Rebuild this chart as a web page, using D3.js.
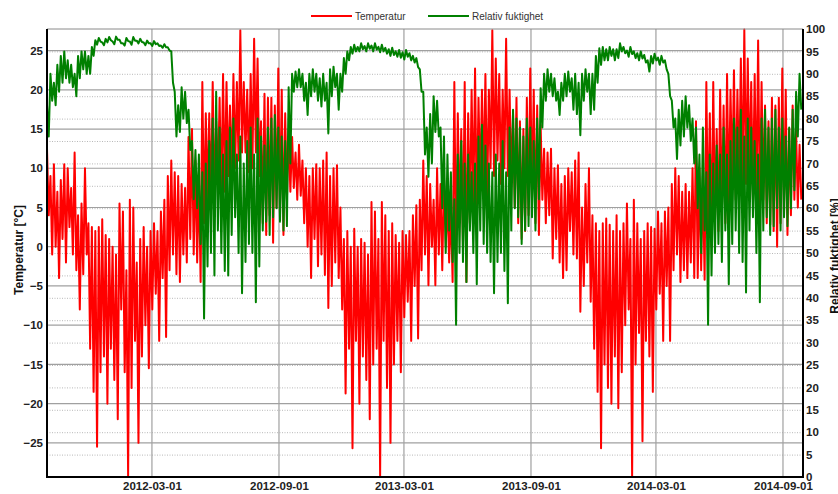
<!DOCTYPE html>
<html>
<head>
<meta charset="utf-8">
<script src="https://cdn.jsdelivr.net/npm/d3@7"></script>
<style>
  body { margin: 0; background: #fff; }
  svg { display: block; font-family: "Liberation Sans", Arial, sans-serif; }
</style>
</head>
<body>
<div id="chart"></div>
<script>
// series start 2011-10-01, one high/low pair every 5 days
const startDate = new Date(2011, 9, 1);
const endDate = new Date(2014, 8, 30);
const stepDays = 5;

const tempHigh = [
  12.5, 9, 10.5, 7, 8.5, 10.5, 10, 7.5, 12, 4, 5.5, 10, 3, 2.5, 2, 2.5, 3.5, 1.5, 1, 0,
  -1, 5.5, 4.5, -3, 6, 5, -2, 1, 2.5, 0, 2, 3, 2, 4.5, 6, 9, 11, 9.5, 9, 8,
  7.5, 14, 15, 11, 9, 21, 17, 17, 21, 16, 19, 22, 21, 18, 22,
  21, 27.6, 21, 20, 22, 26.5, 24, 16, 19.5, 19, 19, 18, 22.7, 20, 17, 15, 14, 12, 13, 11,
  10, 9, 10, 10.5, 10, 11, 12, 9, 10, 10.4, 5, 1, 2, 0, 2.3, 0, 1, 0.5, -1, 5.7,
  4.5, 1, 5.7, 4, 2, 3, 1.5, 0.5, 2, 1.5, 2, 4, 5.3, 6, 11,
  9, 8, 6, 10, 8, 9, 6, 5, 21, 17, 15, 21, 17, 20, 22.7, 19, 20, 22, 20, 27.6,
  24, 22, 20, 26.5, 20, 17, 19, 16, 15, 19, 22.7, 20, 18, 15.5, 12.5, 12, 12.5, 10, 10.4, 8,
  9, 10, 9.5, 11, 12, 5, 8, 10, 4, 3, 2, 3, 3.6, 2.8, 2,
  4, 2, 3, 5.5, 1, 6, 3, 1, 2, 3, 2.5, 2.3, 4.5, 3, 4.5, 5, 8, 10, 9, 7,
  8, 7, 10, 16, 10, 9, 21, 17, 21, 15, 20, 18, 22, 20, 22.5, 20, 24, 27.7, 24, 21,
  22, 26.3, 21, 18, 16, 19, 18, 19, 22.7, 20, 15, 18, 15, 13
];
const tempLow = [
  4, -1, 0, -4, 1, -2, 2.5, -1, -3, -8, -3.5, -1, -13, -18.5, -25.5, -16, -14, -20, -13, -17,
  -22, -8, -16, -29.3, -18, -12, -25, -14, -10, -15.5, -8, -6, -12, -4, -11.5, -3, -1, -3.5, -4.5, -1,
  -2, 1, -1, -2, -4.5, 3, 6, 5, 6, 8, 6, 7, 9, 8, 10,
  11, 12, 12, 9.5, 10, 12, 9, 3, 1.5, 4, 0.5, 5, 4, 1.5, 6, 7, 7.5, 6, 6.5, 3,
  0, -4, 1, -2.5, -1, -3.6, -7.8, -5, -2, -4, -8, -18.7, -13, -25.7, -12, -20, -14, -17, -22, -15,
  -13, -29.3, -12, -18, -25, -15, -12, -16, -9, -7, -12, -5, -11.7, -3, -1,
  -4.9, 0, -4.9, -1, -3, 0, -2, -4.5, -2, 3, 0, -4.5, 3, 5, 4, 7, 8, 6, 10, 9,
  11, 8, 10, 9, 8, 5, 3, 1, 2, 4, 6, 3, 1.5, 6, 3, 4, -1.5, 1, -2, -4,
  -3, 2, -1, -1.5, -8.3, -5, -2, -7, -13, -18.5, -25.7, -15, -18, -20, -14,
  -20.6, -16, -10, -8, -29.3, -15, -11, -24.8, -12, -14, -18.5, -8, -6, -12, -5, -12, -3, -1, -4.5, -3,
  -4, -2, -4, -4, -3, -4.2, 2, 0, 3, 2, 4, 3, 5, 8, 6, 8, 7, 8, 9, 6,
  5, 4, 6, 3, 2.8, 2, 0, 3, 4, 1.5, 4, 6, 5, 6
];
const rhHigh = [
  83, 90, 88, 92, 94, 95, 93, 92, 90, 94, 95, 95, 94, 96, 97.5, 98, 97, 97.8, 98.2, 97.2,
  98.3, 97.6, 96.8, 98, 97.2, 98.2, 97.4, 97.8, 97, 97.4, 96.8, 97.3, 96.8, 96.3, 96.6, 95.9, 95, 86, 83, 87,
  86, 82, 75, 73, 72, 68, 70, 75, 80, 86, 78, 72, 75, 78, 80,
  72, 76, 70, 75, 78, 72, 80, 76, 74, 78, 80, 80.8, 78, 76, 75, 87, 90, 90.5, 91, 90,
  88, 90, 91, 90, 89, 90, 88, 91, 91.6, 90, 90, 93.5, 95, 96, 96.5, 96, 96.8, 96.2, 96.8, 96.3,
  96.8, 96, 96.5, 95.8, 95.5, 95.8, 95, 95.3, 94.8, 95.3, 94.6, 94, 93.5, 91, 86,
  78, 81, 85, 84, 78, 76, 72, 68, 62, 72, 75, 70, 72, 68, 70, 76, 78.6, 74, 70, 68,
  72, 70, 75, 68, 78, 82, 80, 78, 76, 80, 78, 75, 80, 86.8, 90, 91, 90, 89, 86, 88,
  90, 90.5, 89, 90, 88, 90, 91, 90, 90, 94, 95.7, 96, 95.5, 96, 95.5,
  95.5, 96.8, 96, 95.2, 96, 95, 94.6, 95, 94.2, 93, 94, 94.5, 93.6, 94, 93, 90, 84, 80, 82, 84,
  85, 83, 80, 78, 72, 78, 68, 72, 70, 74, 72, 78, 72, 75, 80, 78, 82, 76, 80, 78,
  75, 72, 80, 82, 78, 80, 82, 78, 80, 76, 78, 82, 86, 90
];
const rhLow = [
  76, 84, 83, 86, 88, 89, 88, 87, 85, 89, 91, 90, 90, 94, 96.5, 97.2, 96.4, 97, 97.5, 96.6,
  97.6, 96.8, 96.3, 97.3, 96.5, 97.4, 96.8, 97.1, 96.4, 96.8, 96.2, 96.6, 96.2, 95.8, 95.9, 95.2, 88, 76, 77, 80,
  79, 73, 62, 60, 52, 35.4, 47, 50, 45, 55, 50, 46, 45, 54, 58,
  50, 41, 48, 52, 50, 39, 47, 55, 57, 54, 58, 60, 57, 55, 56, 70, 86, 87, 87, 84,
  80.8, 85, 86, 84, 82.7, 84, 76.7, 85, 87, 82, 86, 90, 93, 94.5, 95, 95, 95.5, 95, 95.6, 95,
  95.4, 94.8, 95, 94.5, 94, 94.2, 93.8, 93.6, 93.2, 93.8, 93, 92.5, 91.5, 86, 72,
  67, 70, 77, 76, 60, 50, 55, 48, 34, 50, 48, 43.5, 55, 50, 43, 55, 52, 50, 48, 41,
  48, 50, 46, 38.8, 55, 60, 58, 52, 55, 56, 58, 55, 62, 78, 84, 86, 85, 84, 80.8, 84,
  85, 86, 82, 81, 76.3, 84, 86, 81, 82, 88, 92, 93, 93, 94, 93,
  93.5, 95, 94.6, 93.8, 94.4, 93.5, 93, 93.4, 92.5, 90.5, 92.3, 93, 92, 92.5, 91, 85, 78, 71, 74, 76,
  78, 75, 70, 60, 50, 55, 34, 45, 50, 52, 48, 55, 43, 52, 55, 50, 48, 41.2, 55, 58,
  50, 39, 55, 58, 54, 56, 60, 55, 58, 56, 60, 64, 76, 82
];

const dateTicks = ['2012-03-01', '2012-09-01', '2013-03-01', '2013-09-01', '2014-03-01', '2014-09-01'];
const tempTicks = [-25, -20, -15, -10, -5, 0, 5, 10, 15, 20, 25];
const rhTicks = [0, 5, 10, 15, 20, 25, 30, 35, 40, 45, 50, 55, 60, 65, 70, 75, 80, 85, 90, 95, 100];
const seriesNames = ['Temperatur', 'Relativ fuktighet'];
const seriesColors = ['#ff0000', '#008000'];

const width = 838;
const height = 494;
const plot = { left: 47, right: 803, top: 29, bottom: 477 };

const parseDate = d3.timeParse('%Y-%m-%d');

const x = d3.scaleTime().domain([startDate, endDate]).range([plot.left, plot.right]);
const yTemp = d3.scaleLinear().domain([-29.35, 27.75]).range([plot.bottom, plot.top]);
const yRh = d3.scaleLinear().domain([0, 100]).range([plot.bottom, plot.top]);

function toPoints(high, low) {
  const pts = [];
  high.forEach((h, i) => {
    const t = d3.timeDay.offset(startDate, i * stepDays);
    pts.push([t, h]);
    pts.push([d3.timeHour.offset(t, stepDays * 12), low[i]]);
  });
  return pts;
}

const svg = d3.select('#chart').append('svg')
  .attr('width', width)
  .attr('height', height);

svg.append('rect').attr('width', width).attr('height', height).attr('fill', '#fff');

// dotted grid for the humidity axis
svg.append('g')
  .selectAll('line')
  .data(rhTicks.filter(d => d > 0 && d < 100))
  .join('line')
  .attr('x1', plot.left).attr('x2', plot.right)
  .attr('y1', d => yRh(d) + 0.5).attr('y2', d => yRh(d) + 0.5)
  .attr('stroke', '#b8b8b8')
  .attr('stroke-dasharray', '1,1.5');

// solid grid for temperature + dates
svg.append('g')
  .selectAll('line')
  .data(tempTicks)
  .join('line')
  .attr('x1', plot.left).attr('x2', plot.right)
  .attr('y1', d => yTemp(d)).attr('y2', d => yTemp(d))
  .attr('stroke', '#a0a0a0')
  .attr('stroke-width', 1.2);

svg.append('g')
  .selectAll('line')
  .data(dateTicks.map(parseDate))
  .join('line')
  .attr('x1', d => x(d)).attr('x2', d => x(d))
  .attr('y1', plot.top).attr('y2', plot.bottom)
  .attr('stroke', '#a0a0a0')
  .attr('stroke-width', 1.2);

svg.append('clipPath').attr('id', 'clip')
  .append('rect')
  .attr('x', plot.left).attr('y', plot.top - 1)
  .attr('width', plot.right - plot.left).attr('height', plot.bottom - plot.top + 1);

const tempLine = d3.line().x(d => x(d[0])).y(d => yTemp(d[1]));
const rhLine = d3.line().x(d => x(d[0])).y(d => yRh(d[1]));

const series = svg.append('g').attr('clip-path', 'url(#clip)');
series.append('path')
  .datum(toPoints(tempHigh, tempLow))
  .attr('d', tempLine)
  .attr('fill', 'none')
  .attr('stroke', seriesColors[0])
  .attr('stroke-width', 2)
  .attr('stroke-linejoin', 'round');
series.append('path')
  .datum(toPoints(rhHigh, rhLow))
  .attr('d', rhLine)
  .attr('fill', 'none')
  .attr('stroke', seriesColors[1])
  .attr('stroke-width', 2)
  .attr('stroke-linejoin', 'round');

// frame
svg.append('line')
  .attr('x1', plot.left).attr('x2', plot.right)
  .attr('y1', plot.top).attr('y2', plot.top)
  .attr('stroke', '#8a8a8a');
svg.append('path')
  .attr('d', `M${plot.left},${plot.top}V${plot.bottom}H${plot.right}V${plot.top}`)
  .attr('fill', 'none')
  .attr('stroke', '#000')
  .attr('stroke-width', 2);

// axes
const tickStyle = g => {
  g.select('.domain').remove();
  g.selectAll('text')
    .attr('font-size', 11.5)
    .attr('font-weight', 'bold')
    .attr('fill', '#222')
    .attr('font-family', '"Liberation Sans", Arial, sans-serif');
};

svg.append('g')
  .attr('transform', `translate(${plot.left - 1},0)`)
  .call(d3.axisLeft(yTemp).tickValues(tempTicks).tickSize(0).tickPadding(3))
  .call(tickStyle);

svg.append('g')
  .attr('transform', `translate(${plot.right + 1},0)`)
  .call(d3.axisRight(yRh).tickValues(rhTicks).tickSize(0).tickPadding(2))
  .call(tickStyle);

svg.append('g')
  .attr('transform', `translate(0,${plot.bottom + 1})`)
  .call(d3.axisBottom(x).tickValues(dateTicks.map(parseDate)).tickSize(0).tickPadding(4)
    .tickFormat(d3.timeFormat('%Y-%m-%d')))
  .call(tickStyle);

// axis titles
svg.append('text')
  .attr('transform', 'translate(23,250) rotate(-90)')
  .attr('text-anchor', 'middle')
  .attr('font-size', 12)
  .attr('font-weight', 'bold')
  .attr('fill', '#111')
  .text('Temperatur [°C]');

svg.append('text')
  .attr('transform', 'translate(839,256) rotate(-90)')
  .attr('text-anchor', 'middle')
  .attr('font-size', 12)
  .attr('font-weight', 'bold')
  .attr('fill', '#111')
  .text('Relativ fuktighet [%]');

// legend
const legendX = [311, 428];
const legend = svg.append('g');
seriesNames.forEach((name, i) => {
  legend.append('line')
    .attr('x1', legendX[i]).attr('x2', legendX[i] + 41)
    .attr('y1', 16).attr('y2', 16)
    .attr('stroke', seriesColors[i])
    .attr('stroke-width', 2);
  legend.append('text')
    .attr('x', legendX[i] + 44)
    .attr('y', 20)
    .attr('font-size', 10)
    .attr('fill', '#333')
    .text(name);
});
</script>
</body>
</html>
